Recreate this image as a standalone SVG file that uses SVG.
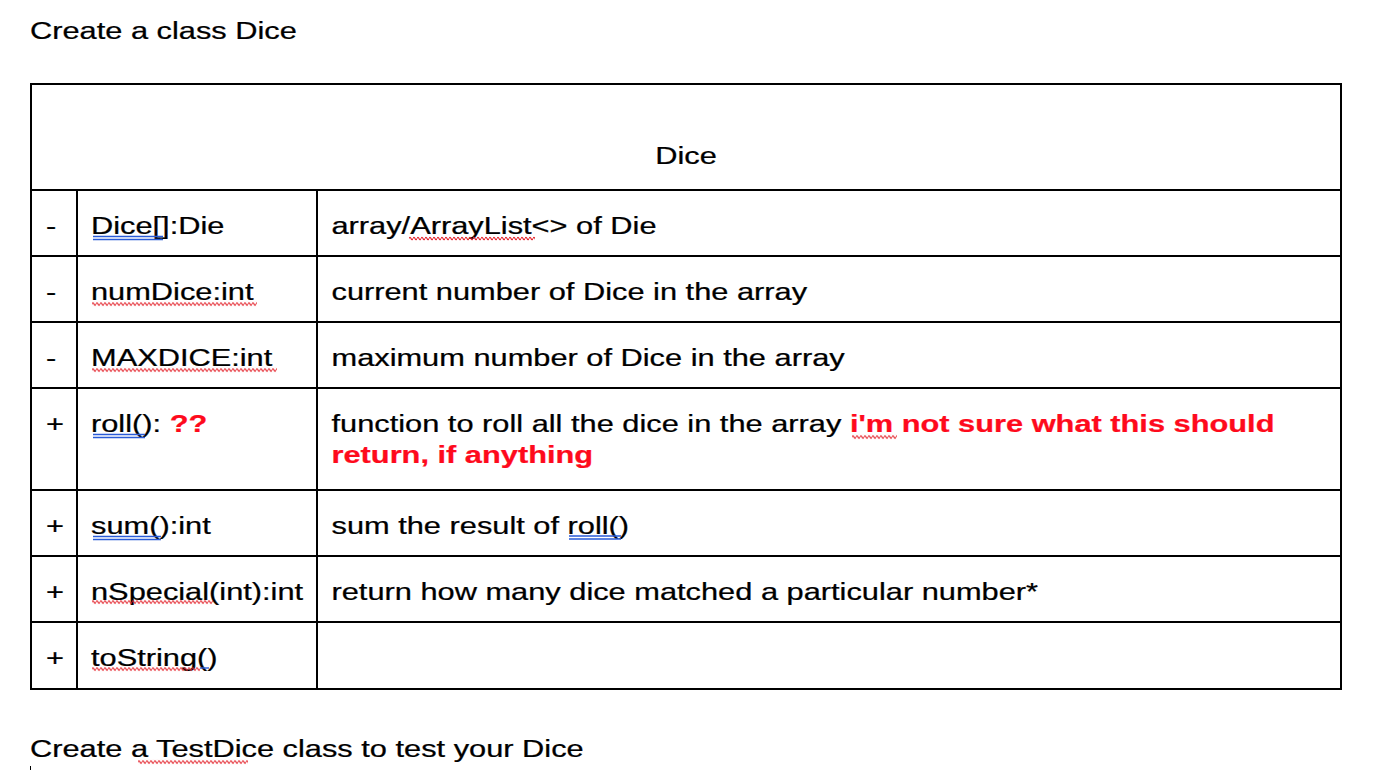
<svg xmlns="http://www.w3.org/2000/svg" width="1382" height="770" viewBox="0 0 1382 770">
<style>
text{font-family:"Liberation Sans",Arial,Helvetica,sans-serif;font-size:24px;fill:#000;stroke:#000;stroke-width:0.25}
.red{fill:#fe0a1c;stroke:#fe0a1c;font-weight:bold}
.grid{stroke:#000;stroke-width:2;fill:none}
.blue{stroke:#2a5bd7;stroke-width:1.4}
</style>
<defs>
<pattern id="wave" width="4" height="5" patternUnits="userSpaceOnUse">
<path d="M0 2.5 Q1 0 2 2.5 T4 2.5" fill="none" stroke="#e3222b" stroke-width="1.2"/>
</pattern>
</defs>
<rect width="1382" height="770" fill="#fff"/>
<g id="title"><g transform="scale(1.283 1)"><text x="23.38" y="39">Create a class Dice</text></g></g>
<g id="table">
<rect class="grid" x="31" y="84" width="1310" height="605"/>
<path class="grid" d="M31 190H1341M31 256H1341M31 322H1341M31 388H1341M31 490H1341M31 556H1341M31 622H1341M77 190V689M317 190V689"/>
</g>
<g id="header"><g transform="scale(1.283 1)"><text x="534.68" y="164" text-anchor="middle">Dice</text></g></g>
<g id="row-dice">
<g transform="scale(1.283 1)">
<text x="35.85" y="234">-</text><text x="70.93" y="234">Dice[]:Die</text><text x="258.38" y="234">array/ArrayList&lt;&gt; of Die</text>
</g>
<path class="blue" d="M93 236.5H163M93 239.5H163"/>
<rect transform="translate(409 236)" width="126" height="5" fill="url(#wave)"/>
</g>
<g id="row-numdice">
<g transform="scale(1.283 1)">
<text x="35.85" y="300">-</text><text x="70.93" y="300">numDice:int</text><text x="258.38" y="300">current number of Dice in the array</text>
</g>
<rect transform="translate(92 301.5)" width="165" height="5" fill="url(#wave)"/>
</g>
<g id="row-maxdice">
<g transform="scale(1.283 1)">
<text x="35.85" y="366">-</text><text x="70.93" y="366">MAXDICE:int</text><text x="258.38" y="366">maximum number of Dice in the array</text>
</g>
<rect transform="translate(92 367.5)" width="185" height="5" fill="url(#wave)"/>
</g>
<g id="row-roll">
<g transform="scale(1.283 1)">
<text x="35.85" y="432">+</text><text x="70.93" y="432">roll(): <tspan class="red">??</tspan></text>
<text x="258.38" y="432">function to roll all the dice in the array <tspan class="red">i'm not sure what this should</tspan></text>
<text class="red" x="258.38" y="463">return, if anything</text>
</g>
<path class="blue" d="M93 434.5H145M93 437.5H145"/>
<rect transform="translate(852 434.5)" width="45" height="5" fill="url(#wave)"/>
</g>
<g id="row-sum">
<g transform="scale(1.283 1)">
<text x="35.85" y="534">+</text><text x="70.93" y="534">sum():int</text><text x="258.38" y="534">sum the result of roll()</text>
</g>
<path class="blue" d="M93 536.5H161M93 539.5H161M569 536H621M569 539H621"/>
</g>
<g id="row-nspecial">
<g transform="scale(1.283 1)">
<text x="35.85" y="600">+</text><text x="70.93" y="600">nSpecial(int):int</text><text x="258.38" y="600">return how many dice matched a particular number*</text>
</g>
<rect transform="translate(92 599.5)" width="121" height="5" fill="url(#wave)"/>
</g>
<g id="row-tostring">
<g transform="scale(1.283 1)">
<text x="35.85" y="666">+</text><text x="70.93" y="666">toString()</text>
</g>
<rect transform="translate(92 666.5)" width="108" height="5" fill="url(#wave)"/>
<path class="blue" d="M200 668H209"/>
</g>
<g id="footer">
<g transform="scale(1.283 1)"><text x="23.38" y="757">Create a TestDice class to test your Dice</text></g>
<rect transform="translate(138 759.5)" width="110" height="5" fill="url(#wave)"/>
<rect x="30" y="766" width="1" height="4" fill="#000"/>
</g>
</svg>
